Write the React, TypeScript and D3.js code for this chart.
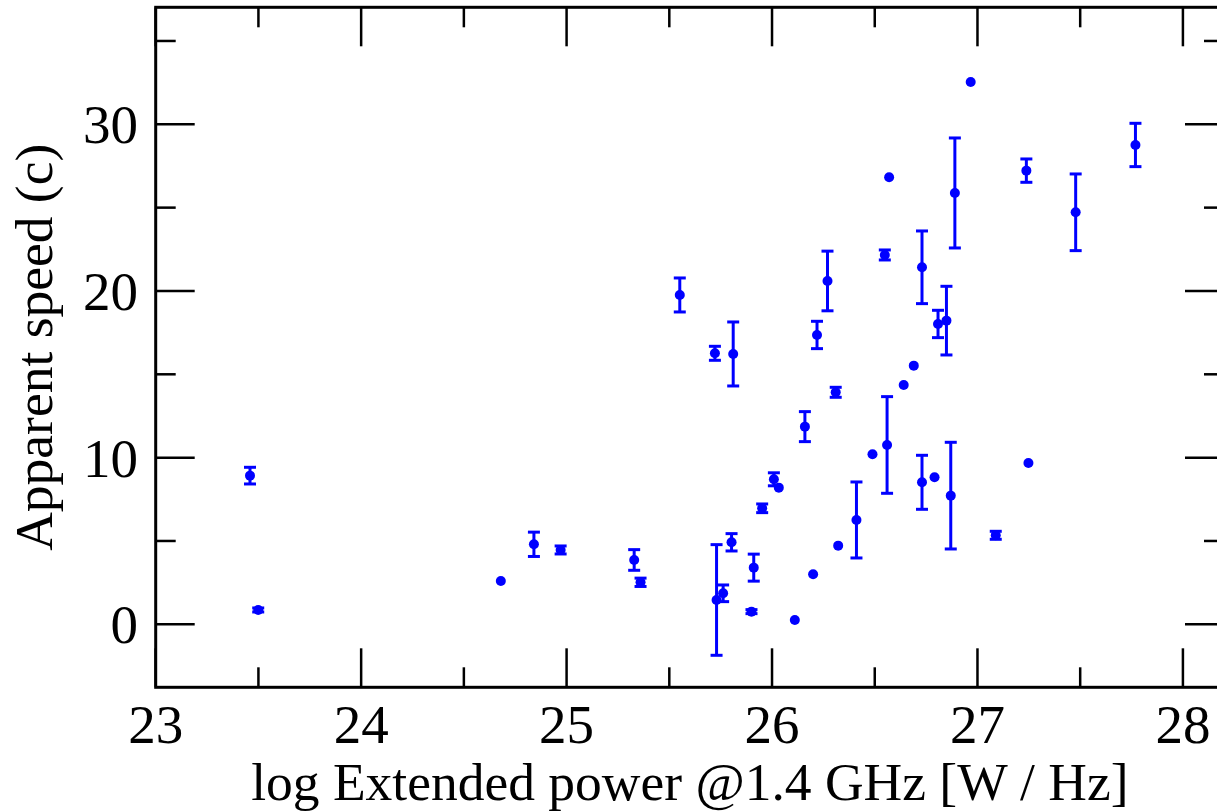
import React from "react";
import * as d3 from "d3";

const logPower = [
  23.459, 23.499, 24.68, 24.841, 24.971, 25.329, 25.36, 25.551, 25.722, 25.811,
  25.73, 25.762, 25.803, 25.9, 25.911, 25.952, 26.009, 26.033, 26.111, 26.16,
  26.2, 26.219, 26.27, 26.31, 26.322, 26.411, 26.489, 26.549, 26.56, 26.57,
  26.641, 26.69, 26.73, 26.73, 26.791, 26.808, 26.849, 26.87, 26.89, 26.967,
  27.089, 27.238, 27.248, 27.478, 27.769,
];
const speed = [
  8.92, 0.86, 2.6, 4.8, 4.46, 3.86, 2.52, 19.76, 16.26, 16.22,
  1.46, 1.86, 4.92, 0.76, 3.4, 6.96, 8.7, 8.2, 0.26, 11.86,
  3.0, 17.36, 20.6, 13.92, 4.72, 6.26, 10.2, 22.16, 10.76, 26.82,
  14.36, 15.52, 21.42, 8.52, 8.82, 18.02, 18.22, 7.72, 25.88, 32.54,
  5.34, 27.22, 9.68, 24.72, 28.76,
];
const speedErr = [
  0.5, 0.12, 0, 0.73, 0.24, 0.62, 0.25, 1.02, 0.42, 1.92,
  3.32, 0.5, 0.52, 0.12, 0.81, 0.26, 0.39, 0, 0, 0.9,
  0, 0.82, 1.79, 0.3, 0, 2.28, 0, 0.3, 2.9, 0,
  0, 0, 2.18, 1.62, 0, 0.82, 2.06, 3.2, 3.3, 0,
  0.24, 0.7, 0, 2.3, 1.3,
];
const xMajorTicks = [23, 24, 25, 26, 27, 28];
const xMinorTicks = [23.5, 24.5, 25.5, 26.5, 27.5];
const yMajorTicks = [0, 10, 20, 30];
const yMinorTicks = [-5, 5, 15, 25, 35];
const xLabel = "log Extended power @1.4 GHz [W / Hz]";
const yLabel = "Apparent speed (c)";

export default function App() {
  const W = 1217;
  const H = 812;
  const left = 155.7;
  const top = 7.3;
  const right = 1224;
  const bottom = 687.3;
  const x = d3.scaleLinear().domain([23, 28.2]).range([left, right]);
  const y = d3.scaleLinear().domain([-3.78, 37.02]).range([bottom, top]);
  const blue = "#0000ff";
  const font = "'Liberation Serif', 'Times New Roman', serif";
  const majLen = 39;
  const minLen = 20;
  const data = logPower.map((v, i) => ({ x: v, y: speed[i], e: speedErr[i] }));
  const inY = (v: number) => v >= -3.78 && v <= 37.02;

  return (
    <svg
      width={W}
      height={H}
      style={{ position: "absolute", left: 0, top: 0, background: "#fff" }}
    >
      <rect x={0} y={0} width={W} height={H} fill="#fff" />
      <g stroke="#000" strokeWidth={2.5}>
        {xMajorTicks.map((t) => (
          <g key={"xm" + t}>
            <line x1={x(t)} x2={x(t)} y1={bottom} y2={bottom - majLen} />
            <line x1={x(t)} x2={x(t)} y1={top} y2={top + majLen} />
          </g>
        ))}
        {xMinorTicks.map((t) => (
          <g key={"xn" + t}>
            <line x1={x(t)} x2={x(t)} y1={bottom} y2={bottom - minLen} />
            <line x1={x(t)} x2={x(t)} y1={top} y2={top + minLen} />
          </g>
        ))}
        {yMajorTicks.map((t) => (
          <g key={"ym" + t}>
            <line x1={left} x2={left + majLen} y1={y(t)} y2={y(t)} />
            <line x1={right} x2={right - majLen} y1={y(t)} y2={y(t)} />
          </g>
        ))}
        {yMinorTicks.filter(inY).map((t) => (
          <g key={"yn" + t}>
            <line x1={left} x2={left + minLen} y1={y(t)} y2={y(t)} />
            <line x1={right} x2={right - minLen} y1={y(t)} y2={y(t)} />
          </g>
        ))}
      </g>
      <rect
        x={left}
        y={top}
        width={right - left}
        height={bottom - top}
        fill="none"
        stroke="#000"
        strokeWidth={3}
      />
      <g fontFamily={font} fontSize={55} fill="#000">
        {xMajorTicks.map((t) => (
          <text key={"xl" + t} x={x(t)} y={743} textAnchor="middle">
            {t}
          </text>
        ))}
        {yMajorTicks.map((t) => (
          <text key={"yl" + t} x={138} y={y(t) + 19} textAnchor="end">
            {t}
          </text>
        ))}
      </g>
      <text
        x={(left + right) / 2}
        y={800}
        textAnchor="middle"
        fontFamily={font}
        fontSize={53.5}
        fill="#000"
      >
        {xLabel}
      </text>
      <text
        transform={`translate(52, ${(top + bottom) / 2}) rotate(-90)`}
        textAnchor="middle"
        fontFamily={font}
        fontSize={53.5}
        fill="#000"
      >
        {yLabel}
      </text>
      <g stroke={blue} strokeWidth={3} fill={blue}>
        {data.map((d, i) =>
          d.e > 0 ? (
            <g key={"e" + i}>
              <line x1={x(d.x)} x2={x(d.x)} y1={y(d.y - d.e)} y2={y(d.y + d.e)} />
              <line x1={x(d.x) - 6} x2={x(d.x) + 6} y1={y(d.y - d.e)} y2={y(d.y - d.e)} />
              <line x1={x(d.x) - 6} x2={x(d.x) + 6} y1={y(d.y + d.e)} y2={y(d.y + d.e)} />
            </g>
          ) : null
        )}
        {data.map((d, i) => (
          <circle key={"p" + i} cx={x(d.x)} cy={y(d.y)} r={5} stroke="none" />
        ))}
      </g>
    </svg>
  );
}
